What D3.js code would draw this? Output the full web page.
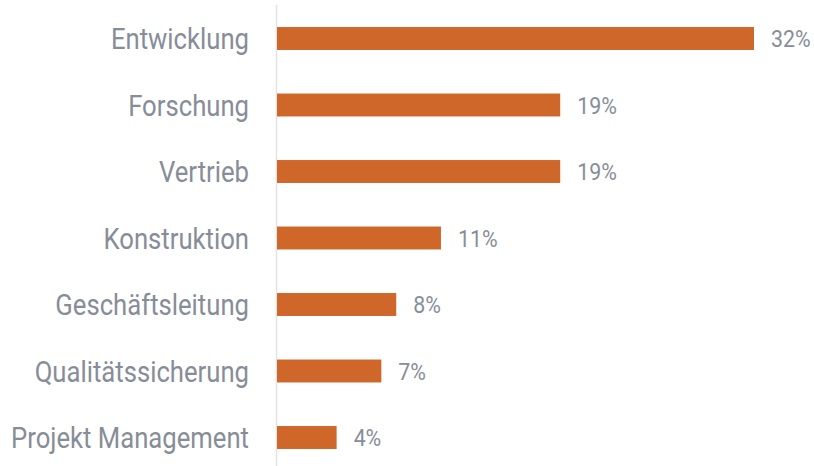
<!DOCTYPE html>
<html>
<head>
<meta charset="utf-8">
<script src="https://cdn.jsdelivr.net/npm/d3@7/dist/d3.min.js"></script>
<style>
  html, body { margin: 0; padding: 0; background: #ffffff; }
  svg { display: block; }
  text { font-family: Roboto, "Noto Sans", sans-serif; }
</style>
</head>
<body>
<svg id="chart" width="814" height="466"></svg>
<script>
const categories = ["Entwicklung", "Forschung", "Vertrieb", "Konstruktion", "Geschäftsleitung", "Qualitätssicherung", "Projekt Management"];
const values = [32, 19, 19, 11, 8, 7, 4];
const valueLabels = ["32%", "19%", "19%", "11%", "8%", "7%", "4%"];

const W = 814, H = 466;
const svg = d3.select("#chart");
const condenseCat = 0.856;
const condenseVal = 0.89;

const x = d3.scaleLinear().domain([0, 32]).range([277, 754]);
const y = d3.scaleBand().domain(categories).range([5.25, 470.75]).paddingInner(0.655).paddingOuter(0.3275);

// axis line
svg.append("line")
  .attr("x1", 276.5).attr("x2", 276.5)
  .attr("y1", 5).attr("y2", H)
  .attr("stroke", "#e2e2e8").attr("stroke-width", 1.5);

svg.selectAll("rect.bar").data(categories).join("rect")
  .attr("class", "bar")
  .attr("x", x(0))
  .attr("y", d => y(d))
  .attr("width", (d, i) => x(values[i]) - x(0))
  .attr("height", y.bandwidth())
  .attr("fill", "#d0672a");

// category labels
svg.selectAll("text.cat").data(categories).join("text")
  .attr("class", "cat")
  .attr("transform", d => `translate(249,${y(d) + y.bandwidth() / 2}) scale(${condenseCat},1)`)
  .attr("text-anchor", "end")
  .attr("dy", "0.36em")
  .attr("font-size", 30)
  .attr("fill", "#878d98")
  .text(d => d);

// value labels
svg.selectAll("text.val").data(categories).join("text")
  .attr("class", "val")
  .attr("transform", (d, i) => `translate(${x(values[i]) + 17},${y(d) + y.bandwidth() / 2}) scale(${condenseVal},1)`)
  .attr("text-anchor", "start")
  .attr("dy", "0.36em")
  .attr("font-size", 24)
  .attr("fill", "#878d98")
  .text((d, i) => valueLabels[i]);
</script>
</body>
</html>
